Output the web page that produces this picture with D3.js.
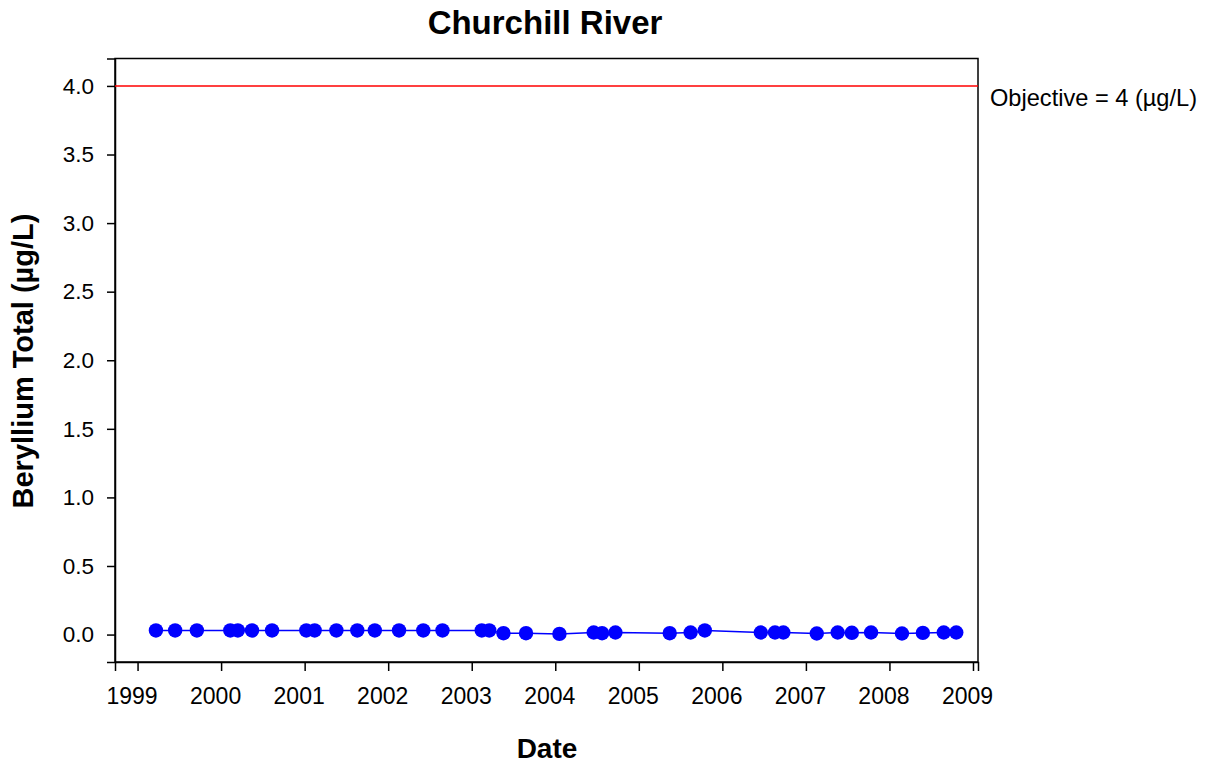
<!DOCTYPE html>
<html><head><meta charset="utf-8">
<script src="https://cdn.jsdelivr.net/npm/d3@7"></script>
<style>body{margin:0;background:#fff;} svg{display:block;font-family:"Liberation Sans",Arial,sans-serif;}</style>
</head><body>
<script>
const dates = [1999.22,1999.45,1999.71,2000.11,2000.20,2000.37,2000.61,2001.02,2001.12,2001.38,2001.63,2001.84,2002.13,2002.42,2002.65,2003.12,2003.21,2003.38,2003.65,2004.05,2004.46,2004.56,2004.72,2005.37,2005.62,2005.79,2006.46,2006.63,2006.73,2007.13,2007.38,2007.55,2007.78,2008.15,2008.40,2008.65,2008.80];
const values = [0.03,0.03,0.03,0.03,0.03,0.03,0.03,0.03,0.03,0.03,0.03,0.03,0.03,0.03,0.03,0.03,0.03,0.01,0.01,0.005,0.015,0.01,0.015,0.01,0.015,0.03,0.015,0.015,0.015,0.008,0.015,0.013,0.015,0.008,0.012,0.015,0.015];
const xTicks = [1999,2000,2001,2002,2003,2004,2005,2006,2007,2008,2009];
const yTicks = [0,0.5,1,1.5,2,2.5,3,3.5,4];
const objective = 4;

const W = 1212, H = 765;
const L = 115, R = 978, T = 58.5, B = 662;
const svg = d3.select("body").append("svg").attr("width", W).attr("height", H);
const x = d3.scaleLinear().domain([1998.73, 2009.06]).range([L, R]);
const y = d3.scaleLinear().domain([-0.2, 4.2]).range([B, T]);

// frame
svg.append("rect").attr("x", L).attr("y", T).attr("width", R - L).attr("height", B - T)
  .attr("fill", "none").attr("stroke", "#000").attr("stroke-width", 1.5);

// axes
const xa = svg.append("g").attr("transform", `translate(0,${B})`)
  .call(d3.axisBottom(x).tickValues(xTicks).tickFormat(d3.format("d")).tickSize(9).tickPadding(17));
const ya = svg.append("g").attr("transform", `translate(${L},0)`)
  .call(d3.axisLeft(y).tickValues(yTicks).tickFormat(d3.format(".1f")).tickSize(8).tickPadding(13));
[xa, ya].forEach(a => {
  a.attr("font-family", "Liberation Sans, Arial, sans-serif");
  a.select(".domain").attr("stroke", "#000").attr("stroke-width", 1.5);
  a.selectAll(".tick line").attr("stroke", "#000").attr("stroke-width", 1.5);
  a.selectAll("text").attr("fill", "#000");
});
xa.attr("font-size", 23);
xa.selectAll(".tick text").attr("dx", -6);
ya.attr("font-size", 22.5);

// objective line
svg.append("line").attr("x1", L).attr("x2", R).attr("y1", y(objective)).attr("y2", y(objective))
  .attr("stroke", "#ff0000").attr("stroke-width", 1.5);
svg.append("text").attr("x", 990).attr("y", 106).attr("font-size", 23.6)
  .text(`Objective = ${objective} (µg/L)`);

// data line & points
const pts = dates.map((d, i) => [d, values[i]]);
svg.append("path").datum(pts)
  .attr("d", d3.line().x(d => x(d[0])).y(d => y(d[1])))
  .attr("fill", "none").attr("stroke", "#0000ff").attr("stroke-width", 1.5);
svg.selectAll("circle").data(pts).enter().append("circle")
  .attr("cx", d => x(d[0])).attr("cy", d => y(d[1])).attr("r", 7.2).attr("fill", "#0000ff");

// titles
svg.append("text").attr("x", 545).attr("y", 34).attr("text-anchor", "middle")
  .attr("font-size", 33).attr("font-weight", "bold").text("Churchill River");
svg.append("text").attr("x", 547).attr("y", 758).attr("text-anchor", "middle")
  .attr("font-size", 28).attr("font-weight", "bold").text("Date");
svg.append("text").attr("transform", `translate(33,361) rotate(-90)`).attr("text-anchor", "middle")
  .attr("font-size", 29).attr("font-weight", "bold").text("Beryllium Total (µg/L)");
</script>
</body></html>
